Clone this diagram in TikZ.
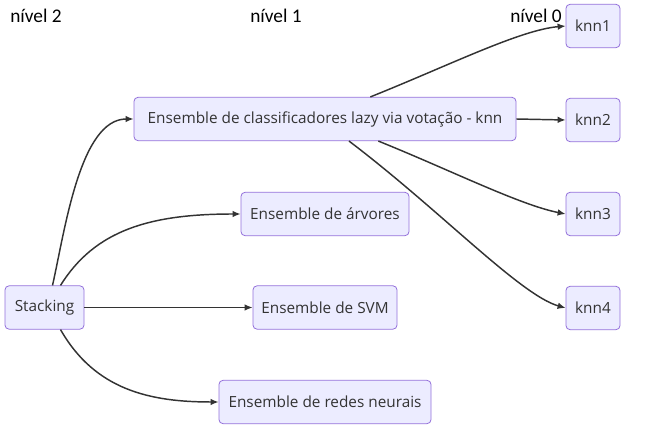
\documentclass[tikz,border=0pt]{standalone}
\usepackage{fontspec}
\setmainfont{Open Sans}
\newfontfamily\levelfont{Carlito}
\usetikzlibrary{arrows.meta,positioning}
\definecolor{boxfill}{HTML}{ECECFF}
\definecolor{boxdraw}{HTML}{9370DB}
\definecolor{linkcol}{HTML}{333333}
\begin{document}
\begin{tikzpicture}[x=0.75pt,y=-0.75pt]
\tikzstyle{box}=[draw=boxdraw,fill=boxfill,rounded corners=3pt,line width=0.6pt,inner sep=0pt,minimum height=32.5pt,text=linkcol,font=\fontsize{11.5}{13}\selectfont]
\tikzstyle{link}=[draw=linkcol,line width=1.1pt,-{Latex[length=6pt,width=5pt]}]
\tikzstyle{level}=[font=\levelfont\fontsize{14.5}{16}\selectfont,inner sep=0pt,anchor=west]
\useasboundingbox (0,0) rectangle (661,441);
% niveis
\node [level] at (10,16) (n2) {nível 2};
\node [level] at (250,16) (n1) {nível 1};
\node [level] at (510,16) (n0) {nível 0};
% caixas
\node [box,minimum width=59.25pt] at (44.5,307.5) (stk) {Stacking};
\node [box,minimum width=286.5pt] at (325,119) (lazy) {Ensemble de classificadores lazy via votação - knn};
\node [box,minimum width=126pt] at (325,214) (arv) {Ensemble de árvores};
\node [box,minimum width=108pt] at (325,307.5) (svm) {Ensemble de SVM};
\node [box,minimum width=159pt] at (325,402) (rn) {Ensemble de redes neurais};
\node [box,minimum width=40.5pt] at (593,26) (k1) {knn1};
\node [box,minimum width=40.5pt] at (593,120) (k2) {knn2};
\node [box,minimum width=40.5pt] at (593,214) (k3) {knn3};
\node [box,minimum width=40.5pt] at (593,308) (k4) {knn4};
% ligacoes
\draw [link] ([xshift=6pt]stk.north) .. controls (65,230) and (80,119) .. (lazy.west);
\draw [link] ([xshift=12pt]stk.north) .. controls (95,230) and (150,214) .. (arv.west);
\draw [link] (stk.east) -- (svm.west);
\draw [link] ([xshift=12pt]stk.south) .. controls (95,390) and (150,402) .. (rn.west);
\draw [link] ([xshift=34pt]lazy.north) .. controls (450,65) and (520,30) .. (k1.west);
\draw [link] (lazy.east) -- (k2.west);
\draw [link] ([xshift=40pt]lazy.south) .. controls (450,170) and (520,205) .. (k3.west);
\draw [link] ([xshift=18pt]lazy.south) .. controls (440,210) and (520,295) .. (k4.west);
\end{tikzpicture}
\end{document}
